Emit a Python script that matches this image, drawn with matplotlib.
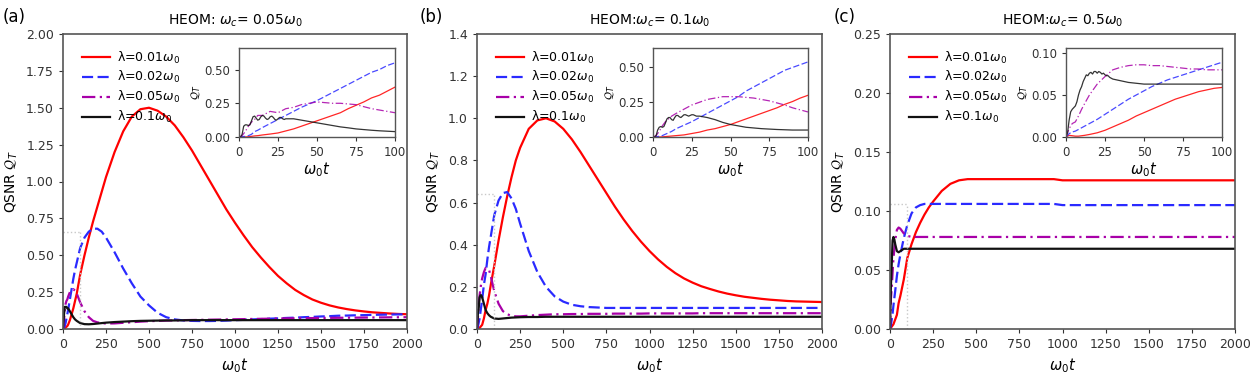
import matplotlib
matplotlib.use("Agg")
import matplotlib.pyplot as plt

# time grids
t_main = [0, 5, 10, 15, 20, 25, 30, 40, 50, 60, 70, 80, 100, 125, 150, 175, 200, 225, 250,
          300, 350, 400, 450, 500, 550, 600, 650, 700, 750, 800, 850, 900, 950,
          1000, 1050, 1100, 1150, 1200, 1250, 1300, 1350, 1400, 1450, 1500,
          1550, 1600, 1650, 1700, 1750, 1800, 1850, 1900, 1950, 2000]
t_in = [0, 2, 4, 6, 8, 10, 12, 15, 20, 25, 30, 35, 40, 45, 50, 55, 60, 65, 70, 75, 80, 85, 90, 95, 100]
t_fine = list(range(0, 31)) + [35, 40, 45, 50, 55, 60, 65, 70, 75, 80, 85, 90, 95, 100]

labels = ["λ=0.01$\\omega_0$", "λ=0.02$\\omega_0$", "λ=0.05$\\omega_0$", "λ=0.1$\\omega_0$"]
titles = ["HEOM: $\\omega_c$= 0.05$\\omega_0$", "HEOM:$\\omega_c$= 0.1$\\omega_0$", "HEOM:$\\omega_c$= 0.5$\\omega_0$"]
panel_tags = ["(a)", "(b)", "(c)"]

# panel (a), omega_c = 0.05
a_red = [0, 0, 0.005, 0.01, 0.015, 0.02, 0.03, 0.06, 0.10, 0.14, 0.19, 0.24, 0.37, 0.50, 0.62, 0.73, 0.83, 0.93, 1.03,
         1.20, 1.34, 1.44, 1.49, 1.50, 1.48, 1.44, 1.38, 1.30, 1.21, 1.11, 1.01, 0.91, 0.81,
         0.72, 0.635, 0.555, 0.485, 0.42, 0.36, 0.31, 0.265, 0.23, 0.20, 0.178,
         0.16, 0.146, 0.135, 0.126, 0.119, 0.113, 0.109, 0.105, 0.102, 0.10]
a_blue = [0, 0.005, 0.02, 0.04, 0.07, 0.10, 0.13, 0.20, 0.27, 0.34, 0.40, 0.45, 0.55, 0.62, 0.66, 0.68, 0.68, 0.66, 0.62,
          0.52, 0.41, 0.31, 0.22, 0.16, 0.11, 0.08, 0.065, 0.058, 0.055, 0.054, 0.054, 0.055, 0.057,
          0.06, 0.062, 0.065, 0.067, 0.07, 0.072, 0.075, 0.077, 0.08, 0.082, 0.085,
          0.087, 0.09, 0.091, 0.093, 0.094, 0.096, 0.097, 0.098, 0.099, 0.10]
a_mag = [0, 0.05, 0.12, 0.17, 0.19, 0.20, 0.22, 0.25, 0.26, 0.27, 0.26, 0.24, 0.18, 0.12, 0.08, 0.055, 0.045, 0.04, 0.037,
         0.038, 0.042, 0.046, 0.05, 0.053, 0.055, 0.057, 0.058, 0.06, 0.061, 0.062, 0.063, 0.064, 0.065,
         0.066, 0.067, 0.068, 0.069, 0.07, 0.071, 0.072, 0.0725, 0.073, 0.074, 0.075,
         0.0755, 0.076, 0.0765, 0.077, 0.0775, 0.078, 0.0785, 0.079, 0.0795, 0.08]
a_black = [0, 0.09, 0.15, 0.15, 0.15, 0.14, 0.14, 0.12, 0.10, 0.08, 0.065, 0.055, 0.04, 0.033, 0.032, 0.034, 0.037, 0.04, 0.043,
           0.047, 0.05, 0.053, 0.055, 0.056, 0.057, 0.058, 0.058, 0.059, 0.06, 0.06, 0.06, 0.06, 0.06,
           0.06, 0.06, 0.06, 0.06, 0.06, 0.06, 0.06, 0.06, 0.06, 0.06, 0.06,
           0.06, 0.06, 0.06, 0.06, 0.06, 0.06, 0.06, 0.06, 0.06, 0.06]
ai_red = [0, 0, 0, 0.002, 0.005, 0.008, 0.01, 0.015, 0.022, 0.03, 0.045, 0.06, 0.08, 0.10, 0.12, 0.14, 0.16, 0.18,
          0.21, 0.235, 0.26, 0.29, 0.31, 0.34, 0.37]
ai_blue = [0, 0.002, 0.005, 0.01, 0.02, 0.04, 0.05, 0.07, 0.10, 0.13, 0.16, 0.19, 0.22, 0.245, 0.27, 0.30, 0.33, 0.36,
           0.39, 0.42, 0.45, 0.48, 0.50, 0.53, 0.55]
ai_mag = [0, 0.01, 0.04, 0.08, 0.11, 0.13, 0.16, 0.16, 0.19, 0.18, 0.21, 0.22, 0.24, 0.25, 0.26, 0.255, 0.25, 0.25,
          0.245, 0.24, 0.225, 0.21, 0.20, 0.19, 0.18]
ai_black = [0, 0, 0.02, 0.08, 0.09, 0.09, 0.085, 0.09, 0.12, 0.15, 0.155, 0.14, 0.125, 0.13, 0.15, 0.16, 0.155, 0.14,
            0.13, 0.135, 0.15, 0.155, 0.145, 0.13, 0.125, 0.135, 0.145, 0.145, 0.135, 0.13, 0.135,
            0.135, 0.125, 0.115, 0.105, 0.095, 0.085, 0.075, 0.068, 0.06, 0.055, 0.05, 0.046, 0.043, 0.04]

# panel (b), omega_c = 0.1
b_red = [0, 0, 0.003, 0.006, 0.01, 0.015, 0.02, 0.05, 0.09, 0.12, 0.16, 0.21, 0.30, 0.42, 0.53, 0.63, 0.72, 0.80, 0.86,
         0.95, 0.99, 1.00, 0.985, 0.95, 0.90, 0.84, 0.775, 0.71, 0.645, 0.58, 0.52, 0.465, 0.415,
         0.37, 0.33, 0.295, 0.265, 0.24, 0.22, 0.203, 0.19, 0.178, 0.168, 0.16,
         0.153, 0.148, 0.143, 0.139, 0.136, 0.133, 0.131, 0.13, 0.129, 0.128]
b_blue = [0, 0.01, 0.03, 0.05, 0.08, 0.11, 0.14, 0.21, 0.26, 0.33, 0.39, 0.44, 0.54, 0.61, 0.645, 0.65, 0.62, 0.57, 0.50,
          0.37, 0.27, 0.20, 0.155, 0.13, 0.115, 0.108, 0.104, 0.102, 0.10, 0.10, 0.10, 0.10, 0.10,
          0.10, 0.10, 0.10, 0.10, 0.10, 0.10, 0.10, 0.10, 0.10, 0.10, 0.10,
          0.10, 0.10, 0.10, 0.10, 0.10, 0.10, 0.10, 0.10, 0.10, 0.10]
b_mag = [0, 0.05, 0.12, 0.16, 0.19, 0.22, 0.24, 0.27, 0.29, 0.285, 0.28, 0.25, 0.18, 0.12, 0.085, 0.07, 0.063, 0.06, 0.06,
         0.063, 0.066, 0.068, 0.07, 0.07, 0.071, 0.071, 0.072, 0.072, 0.072, 0.073, 0.073, 0.073, 0.073,
         0.074, 0.074, 0.074, 0.074, 0.074, 0.074, 0.075, 0.075, 0.075, 0.075, 0.075,
         0.075, 0.075, 0.075, 0.075, 0.075, 0.075, 0.075, 0.075, 0.075, 0.075]
b_black = [0, 0.07, 0.10, 0.15, 0.16, 0.16, 0.15, 0.12, 0.09, 0.075, 0.065, 0.058, 0.05, 0.048, 0.05, 0.052, 0.054, 0.055, 0.056,
           0.057, 0.057, 0.058, 0.058, 0.058, 0.058, 0.058, 0.058, 0.058, 0.058, 0.058, 0.058, 0.058, 0.058,
           0.058, 0.058, 0.058, 0.058, 0.058, 0.058, 0.058, 0.058, 0.058, 0.058, 0.058,
           0.058, 0.058, 0.058, 0.058, 0.058, 0.058, 0.058, 0.058, 0.058, 0.058]
bi_red = [0, 0, 0, 0.001, 0.003, 0.005, 0.007, 0.01, 0.015, 0.025, 0.035, 0.05, 0.06, 0.075, 0.09, 0.11, 0.13, 0.15,
          0.17, 0.19, 0.21, 0.235, 0.255, 0.28, 0.30]
bi_blue = [0, 0.002, 0.005, 0.01, 0.02, 0.03, 0.04, 0.06, 0.085, 0.11, 0.14, 0.17, 0.20, 0.23, 0.26, 0.29, 0.33, 0.36,
           0.39, 0.42, 0.45, 0.48, 0.50, 0.52, 0.54]
bi_mag = [0, 0.01, 0.04, 0.08, 0.11, 0.13, 0.15, 0.17, 0.20, 0.23, 0.25, 0.27, 0.28, 0.29, 0.29, 0.29, 0.285, 0.28,
          0.27, 0.26, 0.245, 0.23, 0.21, 0.195, 0.18]
bi_black = [0, 0, 0.01, 0.05, 0.07, 0.075, 0.07, 0.075, 0.10, 0.13, 0.14, 0.14, 0.125, 0.12, 0.14, 0.155, 0.155, 0.145,
            0.14, 0.15, 0.16, 0.16, 0.155, 0.15, 0.155, 0.16, 0.16, 0.155, 0.15, 0.15, 0.15,
            0.14, 0.125, 0.105, 0.09, 0.08, 0.07, 0.065, 0.06, 0.057, 0.054, 0.052, 0.05, 0.05, 0.05]

# panel (c), omega_c = 0.5
c_red = [0, 0.001, 0.002, 0.003, 0.004, 0.006, 0.008, 0.012, 0.022, 0.028, 0.035, 0.042, 0.06, 0.072, 0.082, 0.09, 0.097, 0.103, 0.108,
         0.117, 0.123, 0.126, 0.127, 0.127, 0.127, 0.127, 0.127, 0.127, 0.127, 0.127, 0.127, 0.127, 0.127,
         0.126, 0.126, 0.126, 0.126, 0.126, 0.126, 0.126, 0.126, 0.126, 0.126, 0.126,
         0.126, 0.126, 0.126, 0.126, 0.126, 0.126, 0.126, 0.126, 0.126, 0.126]
c_blue = [0, 0.003, 0.008, 0.013, 0.02, 0.026, 0.032, 0.045, 0.055, 0.063, 0.07, 0.077, 0.088, 0.098, 0.103, 0.105, 0.106, 0.106, 0.106,
          0.106, 0.106, 0.106, 0.106, 0.106, 0.106, 0.106, 0.106, 0.106, 0.106, 0.106, 0.106, 0.106, 0.106,
          0.105, 0.105, 0.105, 0.105, 0.105, 0.105, 0.105, 0.105, 0.105, 0.105, 0.105,
          0.105, 0.105, 0.105, 0.105, 0.105, 0.105, 0.105, 0.105, 0.105, 0.105]
c_mag = [0, 0.025, 0.035, 0.048, 0.06, 0.067, 0.075, 0.084, 0.086, 0.085, 0.083, 0.081, 0.079, 0.078, 0.078, 0.078, 0.078, 0.078, 0.078,
         0.078, 0.078, 0.078, 0.078, 0.078, 0.078, 0.078, 0.078, 0.078, 0.078, 0.078, 0.078, 0.078, 0.078,
         0.078, 0.078, 0.078, 0.078, 0.078, 0.078, 0.078, 0.078, 0.078, 0.078, 0.078,
         0.078, 0.078, 0.078, 0.078, 0.078, 0.078, 0.078, 0.078, 0.078, 0.078]
c_black = [0, 0.035, 0.055, 0.075, 0.078, 0.076, 0.072, 0.066, 0.065, 0.066, 0.067, 0.068, 0.068, 0.068, 0.068, 0.068, 0.068, 0.068, 0.068,
           0.068, 0.068, 0.068, 0.068, 0.068, 0.068, 0.068, 0.068, 0.068, 0.068, 0.068, 0.068, 0.068, 0.068,
           0.068, 0.068, 0.068, 0.068, 0.068, 0.068, 0.068, 0.068, 0.068, 0.068, 0.068,
           0.068, 0.068, 0.068, 0.068, 0.068, 0.068, 0.068, 0.068, 0.068, 0.068]
ci_red = [0, 0.002, 0.0015, 0.001, 0.001, 0.0015, 0.002, 0.003, 0.005, 0.008, 0.012, 0.016, 0.02, 0.025, 0.029, 0.033, 0.037,
          0.041, 0.045, 0.048, 0.051, 0.054, 0.056, 0.058, 0.059]
ci_blue = [0, 0.004, 0.006, 0.007, 0.009, 0.011, 0.013, 0.016, 0.021, 0.027, 0.033, 0.039, 0.045, 0.05, 0.055, 0.06, 0.064,
           0.068, 0.071, 0.074, 0.077, 0.08, 0.083, 0.086, 0.089]
ci_mag = [0, 0.01, 0.016, 0.018, 0.025, 0.033, 0.04, 0.05, 0.063, 0.072, 0.08, 0.083, 0.085, 0.086, 0.086, 0.085, 0.085,
          0.084, 0.083, 0.082, 0.081, 0.081, 0.08, 0.08, 0.08]
ci_black = [0, 0.005, 0.02, 0.03, 0.033, 0.035, 0.037, 0.042, 0.05, 0.056, 0.06, 0.066, 0.07, 0.074, 0.073, 0.076, 0.077,
            0.075, 0.078, 0.078, 0.076, 0.078, 0.077, 0.075, 0.076, 0.074, 0.073, 0.073, 0.071, 0.07, 0.069,
            0.067, 0.065, 0.064, 0.063, 0.063, 0.063, 0.063, 0.063, 0.063, 0.063, 0.063, 0.063, 0.063, 0.063]

main_sets = [[a_red, a_blue, a_mag, a_black], [b_red, b_blue, b_mag, b_black], [c_red, c_blue, c_mag, c_black]]
inset_sets = [[ai_red, ai_blue, ai_mag, ai_black], [bi_red, bi_blue, bi_mag, bi_black], [ci_red, ci_blue, ci_mag, ci_black]]

main_ylim = [2.0, 1.4, 0.25]
main_yticks = [[0, 0.25, 0.5, 0.75, 1.0, 1.25, 1.5, 1.75, 2.0],
               [0, 0.2, 0.4, 0.6, 0.8, 1.0, 1.2, 1.4],
               [0, 0.05, 0.1, 0.15, 0.2, 0.25]]
ytick_fmt = ["{:.2f}", "{:.1f}", "{:.2f}"]
inset_ylim = [0.66, 0.64, 0.106]
inset_yticks = [[0, 0.25, 0.5], [0, 0.25, 0.5], [0, 0.05, 0.1]]

colors = ["#ff0000", "#2a2aff", "#a800a8", "#111111"]
styles = ["-", (0, (5, 2)), (0, (6, 2, 1, 2)), "-"]

plt.rcParams["font.family"] = "DejaVu Sans"
plt.rcParams["mathtext.fontset"] = "dejavusans"

W, H = 1256, 380
fig = plt.figure(figsize=(W / 100, H / 100), dpi=100)


def rect(l, r, top, bot):
    return [l / W, 1 - bot / H, (r - l) / W, (bot - top) / H]


main_x = [(63, 407), (477, 822), (890, 1235)]
inset_x = [(239, 395), (653, 808), (1066, 1222)]
tag_x = [3, 420, 834]

for i in range(3):
    ax = fig.add_axes(rect(main_x[i][0], main_x[i][1], 34, 329))
    for k in range(4):
        ax.plot(t_main, main_sets[i][k], color=colors[k], ls=styles[k], lw=1.6, label=labels[k])
    ax.plot([100, 100], [0, inset_ylim[i]], color="#c8c8c8", ls=":", lw=1)
    ax.plot([0, 100], [inset_ylim[i], inset_ylim[i]], color="#c8c8c8", ls=":", lw=1)
    ax.set_xlim(0, 2000)
    ax.set_ylim(0, main_ylim[i])
    ax.set_xticks([0, 250, 500, 750, 1000, 1250, 1500, 1750, 2000])
    ax.set_yticks(main_yticks[i])
    ax.set_yticklabels([ytick_fmt[i].format(v) for v in main_yticks[i]])
    ax.tick_params(labelsize=9, length=3, colors="#333333")
    for s in ax.spines.values():
        s.set_linewidth(1.2)
        s.set_color("#555555")
    ax.set_xlabel("$\\omega_0 t$", fontsize=10.5)
    ax.set_ylabel("QSNR $\\mathcal{Q}_T$", fontsize=10)
    ax.set_title(titles[i], fontsize=10, pad=7)
    ax.legend(loc="upper left", frameon=False, fontsize=9, handlelength=2.2, handletextpad=0.6,
              labelspacing=0.3, borderaxespad=0.6, bbox_to_anchor=(0.02, 0.99))
    fig.text(tag_x[i] / W, 1 - 17 / H, panel_tags[i], fontsize=12, va="center")

    ins = fig.add_axes(rect(inset_x[i][0], inset_x[i][1], 48, 137))
    for k in range(4):
        tt = t_fine if k == 3 else t_in
        ins.plot(tt, inset_sets[i][k], color=colors[k], ls=styles[k], lw=0.9, alpha=0.85)
    ins.set_xlim(0, 100)
    ins.set_ylim(0, inset_ylim[i])
    ins.set_xticks([0, 25, 50, 75, 100])
    ins.set_yticks(inset_yticks[i])
    ins.set_yticklabels(["{:.2f}".format(v) for v in inset_yticks[i]])
    ins.tick_params(labelsize=8.5, length=3, colors="#333333")
    for s in ins.spines.values():
        s.set_linewidth(1.0)
        s.set_color("#555555")
    ins.set_xlabel("$\\omega_0 t$", fontsize=10.5, labelpad=1)
    ins.set_ylabel("$\\mathcal{Q}_T$", fontsize=8, labelpad=1)

fig.savefig("out.png", dpi=100)
